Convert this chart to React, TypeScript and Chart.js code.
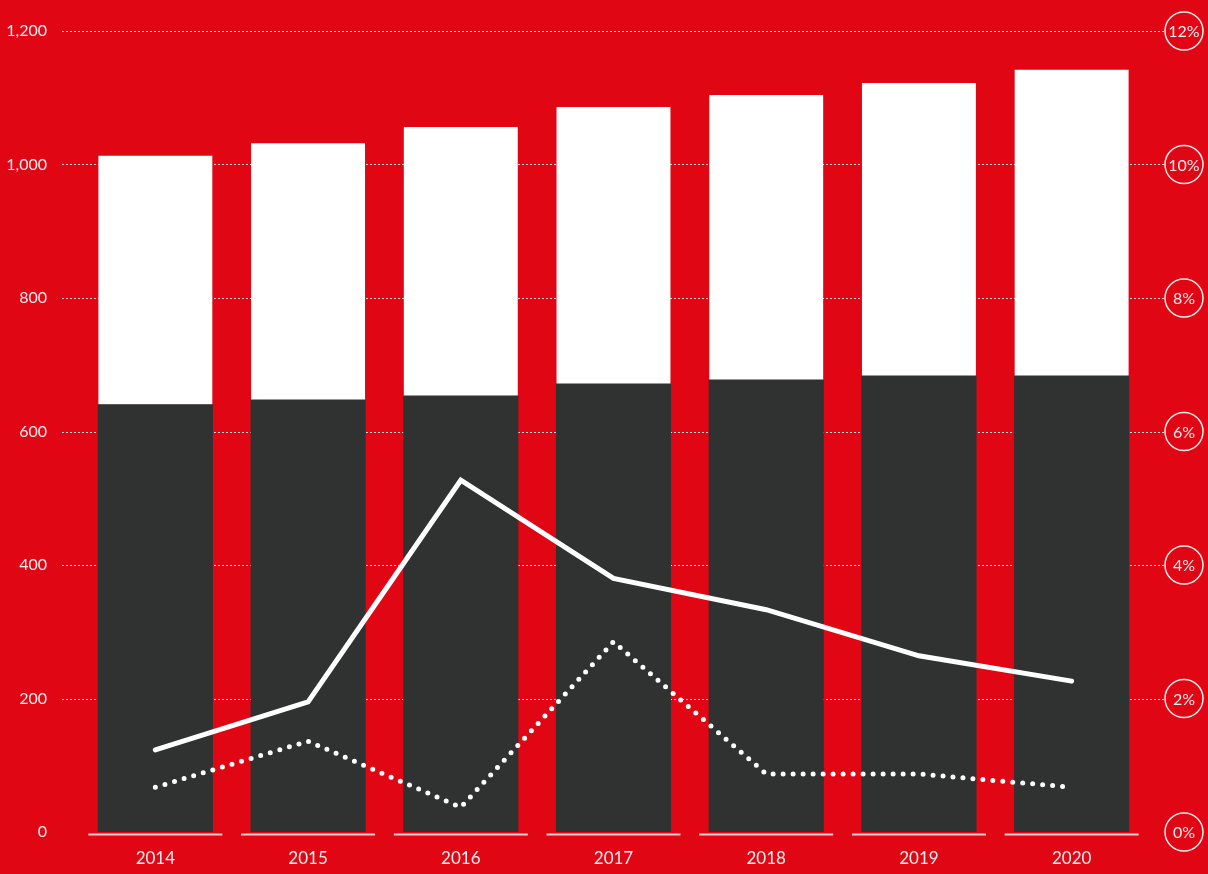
import React, { useEffect, useRef } from "react";
import { Chart, registerables } from "chart.js";

Chart.register(...registerables);

const years = ["2014", "2015", "2016", "2017", "2018", "2019", "2020"];
const darkValues = [640, 647, 653, 671, 677, 683, 683];
const totalValues = [1013, 1032, 1056, 1086, 1104, 1122, 1142];
const whiteValues = totalValues.map((t, i) => t - darkValues[i]);
const solidLine = [1.23, 1.95, 5.27, 3.8, 3.33, 2.64, 2.26];
const dottedLine = [0.67, 1.36, 0.37, 2.85, 0.87, 0.87, 0.67];
const leftTicks = [0, 200, 400, 600, 800, 1000, 1200];
const rightTicks = [0, 2, 4, 6, 8, 10, 12];

const RED = "#e10613";
const DARK = "#303131";
const FONT = "Lato, 'Open Sans', sans-serif";
const TEXT = "rgba(255,255,255,0.93)";

const decorPlugin = {
  id: "decor",
  beforeDatasetsDraw(chart: any) {
    const ctx = chart.ctx;
    const y = chart.scales.y;
    ctx.save();
    ctx.strokeStyle = "rgba(255,255,255,0.85)";
    ctx.lineWidth = 1;
    ctx.setLineDash([2, 2]);
    leftTicks.forEach((v) => {
      if (v === 0) return;
      const py = Math.round(y.getPixelForValue(v)) + 0.5;
      ctx.beginPath();
      ctx.moveTo(62, py);
      ctx.lineTo(1165, py);
      ctx.stroke();
    });
    ctx.restore();
  },
  afterDatasetsDraw(chart: any) {
    const ctx = chart.ctx;
    const x = chart.scales.x;
    const y = chart.scales.y;
    const y1 = chart.scales.y1;
    ctx.save();
    // baseline segments
    ctx.strokeStyle = "rgba(255,255,255,0.8)";
    ctx.lineWidth = 2;
    const base = y.getPixelForValue(0) + 2.5;
    years.forEach((_, i) => {
      const cx = x.getPixelForValue(i);
      ctx.beginPath();
      ctx.moveTo(cx - 67, base);
      ctx.lineTo(cx + 67, base);
      ctx.stroke();
    });
    // right axis circled labels
    ctx.lineWidth = 1.5;
    ctx.strokeStyle = TEXT;
    ctx.fillStyle = TEXT;
    ctx.font = `400 16px ${FONT}`;
    ctx.textAlign = "center";
    ctx.textBaseline = "middle";
    rightTicks.forEach((v) => {
      const py = y1.getPixelForValue(v);
      ctx.beginPath();
      ctx.arc(1184, py, 19, 0, Math.PI * 2);
      ctx.stroke();
      ctx.fillText(v + "%", 1184, py + 1);
    });
    ctx.restore();
  },
};

export default function App() {
  const ref = useRef<HTMLCanvasElement | null>(null);
  useEffect(() => {
    document.body.style.margin = "0";
    document.body.style.background = RED;
    const chart = new Chart(ref.current as HTMLCanvasElement, {
      type: "bar",
      data: {
        labels: years,
        datasets: [
          {
            type: "line",
            data: solidLine,
            yAxisID: "y1",
            borderColor: "#ffffff",
            borderWidth: 5,
            pointRadius: 0,
            tension: 0,
            borderCapStyle: "round",
            borderJoinStyle: "miter",
            order: 0,
          } as any,
          {
            type: "line",
            data: dottedLine,
            yAxisID: "y1",
            borderColor: "#ffffff",
            borderWidth: 5,
            borderDash: [0, 10],
            borderCapStyle: "round",
            pointRadius: 0,
            tension: 0,
            order: 0,
          } as any,
          {
            type: "bar",
            data: darkValues,
            backgroundColor: DARK,
            yAxisID: "y",
            stack: "s",
            order: 1,
            categoryPercentage: 1,
            barPercentage: 0.746,
            inflateAmount: 0.6,
          } as any,
          {
            type: "bar",
            data: whiteValues,
            backgroundColor: "#ffffff",
            yAxisID: "y",
            stack: "s",
            order: 1,
            categoryPercentage: 1,
            barPercentage: 0.746,
          },
        ],
      },
      options: {
        animation: false,
        responsive: false,
        events: [],
        layout: { padding: { top: 31, left: 0, right: 0, bottom: 0 } },
        plugins: { legend: { display: false }, tooltip: { enabled: false } },
        scales: {
          x: {
            stacked: true,
            grid: { display: false, drawTicks: false },
            border: { display: false },
            ticks: {
              color: TEXT,
              font: { family: FONT, size: 17, weight: 400 as any },
              padding: 16,
            },
            afterFit: (s: any) => {
              s.height = 42;
              s.paddingLeft = 0;
              s.paddingRight = 0;
            },
          },
          y: {
            stacked: true,
            position: "left",
            min: 0,
            max: 1200,
            afterBuildTicks: (s: any) => {
              s.ticks = leftTicks.map((v) => ({ value: v }));
            },
            grid: { display: false, drawTicks: false },
            border: { display: false },
            ticks: {
              color: TEXT,
              font: { family: FONT, size: 16, weight: 400 as any },
              padding: 32,
              callback: (v: any) => Number(v).toLocaleString("en-US"),
            },
            afterFit: (s: any) => {
              s.width = 79;
              s.paddingTop = 0;
              s.paddingBottom = 0;
            },
          },
          y1: {
            position: "right",
            min: 0,
            max: 12,
            afterBuildTicks: (s: any) => {
              s.ticks = rightTicks.map((v) => ({ value: v }));
            },
            grid: { display: false, drawTicks: false },
            border: { display: false },
            ticks: { display: false },
            afterFit: (s: any) => {
              s.width = 60;
              s.paddingTop = 0;
              s.paddingBottom = 0;
            },
          },
        },
      },
      plugins: [decorPlugin],
    });
    return () => chart.destroy();
  }, []);
  return (
    <div style={{ position: "fixed", left: 0, top: 0, width: 1208, height: 874, background: RED }}>
      <canvas ref={ref} width={1208} height={874} style={{ width: 1208, height: 874, display: "block" }} />
    </div>
  );
}
